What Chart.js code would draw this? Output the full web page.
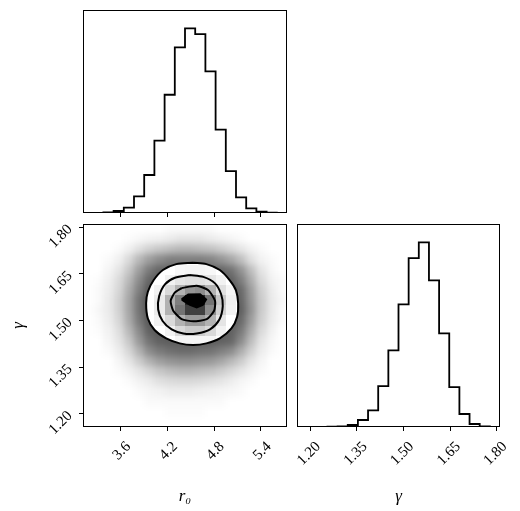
<!DOCTYPE html>
<html>
<head>
<meta charset="utf-8">
<script src="https://cdn.jsdelivr.net/npm/chart.js@4.4.1/dist/chart.umd.min.js"></script>
<style>
  body { margin: 0; background: #fff; }
  #wrap { position: relative; width: 520px; height: 511px; }
  canvas { position: absolute; left: 0; top: 0; }
</style>
</head>
<body>
<div id="wrap">
  <canvas id="histR0" width="520" height="511"></canvas>
  <canvas id="joint" width="520" height="511"></canvas>
  <canvas id="histGamma" width="520" height="511"></canvas>
</div>
<script>
// axis ranges shared by the 1D and 2D histograms (20 bins each)
const R0_RANGE = [3.12, 5.734];
const GAMMA_RANGE = [1.157, 1.81];

const R0_TICKS = [3.6, 4.2, 4.8, 5.4];
const GAMMA_TICKS = [1.20, 1.35, 1.50, 1.65, 1.80];

// marginal histograms (counts per bin, arbitrary units)
const R0_HIST = [0, 0, 2, 6, 16, 50, 114, 217, 355, 497, 554, 537, 425, 250, 126, 47, 14, 4, 1, 0];
const GAMMA_HIST = [0, 0, 0, 1, 2, 6, 21, 50, 123, 230, 368, 507, 554, 440, 281, 120, 39, 9, 2, 0];

// density of the sample cloud, row 0 = highest gamma, col 0 = lowest r0
const CLOUD = [
  [0,0,0,0,0,0,0,0,.02,.02,.02,.02,.02,0,0,0,0,0,0,0],
  [0,0,0,0,.01,.03,.05,.06,.08,.1,.1,.1,.08,.06,.04,.02,0,0,0,0],
  [0,0,0,.02,.06,.12,.18,.22,.25,.28,.28,.26,.24,.2,.15,.1,.05,.02,0,0],
  [0,0,.02,.06,.15,.28,.38,.45,.5,.5,.5,.5,.48,.42,.35,.25,.12,.05,.02,0],
  [0,0,.04,.1,.22,.38,.52,.6,.62,.62,.62,.62,.62,.6,.55,.42,.25,.1,.03,0],
  [0,.01,.06,.14,.28,.45,.6,.65,.65,.65,.65,.65,.65,.65,.62,.5,.32,.14,.05,.02],
  [0,.02,.07,.16,.32,.5,.65,.68,.68,.68,.68,.68,.68,.68,.66,.58,.38,.18,.07,.02],
  [0,.02,.08,.18,.35,.55,.68,.7,.7,.7,.7,.7,.7,.7,.68,.6,.4,.2,.08,.03],
  [0,.03,.08,.18,.35,.55,.68,.7,.7,.7,.7,.7,.7,.7,.68,.62,.42,.2,.08,.02],
  [0,.02,.07,.16,.33,.52,.66,.68,.68,.68,.68,.68,.68,.68,.66,.58,.38,.18,.07,.02],
  [0,.01,.05,.13,.28,.46,.62,.66,.66,.66,.66,.66,.66,.66,.62,.52,.32,.14,.05,0],
  [0,0,.04,.1,.22,.4,.55,.62,.64,.64,.64,.64,.64,.62,.6,.45,.26,.1,.03,0],
  [0,0,.02,.07,.16,.3,.45,.52,.56,.58,.58,.56,.55,.5,.45,.32,.18,.07,.02,0],
  [0,0,0,.04,.1,.2,.3,.38,.42,.44,.44,.42,.4,.35,.28,.2,.1,.04,0,0],
  [0,0,0,.02,.05,.1,.16,.22,.26,.28,.28,.26,.24,.2,.15,.1,.05,.02,0,0],
  [0,0,0,0,.02,.05,.08,.12,.14,.15,.15,.14,.12,.1,.07,.04,.02,0,0,0],
  [0,0,0,0,0,.02,.04,.05,.07,.07,.07,.06,.05,.04,.03,.02,0,0,0,0],
  [0,0,0,0,0,0,.02,.02,.02,.02,.02,.02,.02,.02,0,0,0,0,0,0],
  [0,0,0,0,0,0,0,0,.01,.01,.01,.01,0,0,0,0,0,0,0,0],
  [0,0,0,0,0,0,0,0,0,0,0,0,0,0,0,0,0,0,0,0]
];

// grey 2D histogram shown inside the outer contour
const SHADE = [
  [0,0,0,0,0,0,0,0,0,0,0,0,0,0,0,0,0,0,0,0],
  [0,0,0,0,0,0,0,0,0,0,0,0,0,0,0,0,0,0,0,0],
  [0,0,0,0,0,0,0,0,0,0,0,0,0,0,0,0,0,0,0,0],
  [0,0,0,0,0,0,0,0,0,0,0,0,0,0,0,0,0,0,0,0],
  [0,0,0,0,0,0,0,0,0,.03,.04,.04,.03,0,0,0,0,0,0,0],
  [0,0,0,0,0,0,0,0,.05,.1,.12,.12,.1,.05,0,0,0,0,0,0],
  [0,0,0,0,0,0,0,.05,.15,.3,.42,.45,.3,.12,.04,0,0,0,0,0],
  [0,0,0,0,0,0,0,.08,.3,.5,.85,.85,.55,.22,.06,0,0,0,0,0],
  [0,0,0,0,0,0,0,.08,.3,.55,.75,.75,.45,.18,.05,0,0,0,0,0],
  [0,0,0,0,0,0,0,.05,.15,.3,.4,.4,.3,.1,0,0,0,0,0,0],
  [0,0,0,0,0,0,0,0,.05,.15,.2,.2,.15,.05,0,0,0,0,0,0],
  [0,0,0,0,0,0,0,0,0,.04,.04,.04,.04,0,0,0,0,0,0,0],
  [0,0,0,0,0,0,0,0,0,0,0,0,0,0,0,0,0,0,0,0],
  [0,0,0,0,0,0,0,0,0,0,0,0,0,0,0,0,0,0,0,0],
  [0,0,0,0,0,0,0,0,0,0,0,0,0,0,0,0,0,0,0,0],
  [0,0,0,0,0,0,0,0,0,0,0,0,0,0,0,0,0,0,0,0],
  [0,0,0,0,0,0,0,0,0,0,0,0,0,0,0,0,0,0,0,0],
  [0,0,0,0,0,0,0,0,0,0,0,0,0,0,0,0,0,0,0,0],
  [0,0,0,0,0,0,0,0,0,0,0,0,0,0,0,0,0,0,0,0],
  [0,0,0,0,0,0,0,0,0,0,0,0,0,0,0,0,0,0,0,0]
];

// contour levels, outermost first
const C1_R0 = [4.530, 4.701, 4.873, 5.001, 5.079, 5.108, 5.095, 5.022, 4.873, 4.701, 4.530, 4.359, 4.186, 4.037, 3.951, 3.929, 3.951, 4.024, 4.144, 4.315];
const C1_GAMMA = [1.685, 1.681, 1.662, 1.629, 1.597, 1.555, 1.512, 1.474, 1.442, 1.426, 1.421, 1.426, 1.442, 1.469, 1.506, 1.555, 1.592, 1.629, 1.662, 1.681];
const C2_R0 = [4.491, 4.662, 4.812, 4.890, 4.911, 4.868, 4.748, 4.577, 4.405, 4.256, 4.140, 4.083, 4.096, 4.170, 4.298];
const C2_GAMMA = [1.646, 1.640, 1.619, 1.584, 1.546, 1.503, 1.471, 1.458, 1.458, 1.471, 1.498, 1.535, 1.578, 1.616, 1.637];
const C3_R0 = [4.384, 4.577, 4.726, 4.812, 4.800, 4.706, 4.533, 4.384, 4.276, 4.243, 4.298];
const C3_GAMMA = [1.604, 1.611, 1.597, 1.563, 1.531, 1.504, 1.497, 1.504, 1.531, 1.563, 1.590];
const C4_R0 = [4.384, 4.469, 4.620, 4.697, 4.654, 4.577, 4.491, 4.405];
const C4_GAMMA = [1.568, 1.583, 1.584, 1.567, 1.550, 1.542, 1.550, 1.563];

const SERIF = '"Liberation Serif", "DejaVu Serif", serif';
const tickFont = { family: SERIF, size: 15 };
const titleFont = { family: SERIF, size: 17, style: 'italic' };

function stepPoints(range, counts) {
    const w = (range[1] - range[0]) / counts.length;
    const pts = counts.map((c, i) => ({ x: range[0] + i * w, y: c }));
    pts.push({ x: range[1], y: counts[counts.length - 1] });
    return pts;
}

function loop(xs, ys) {
    const pts = xs.map((x, i) => ({ x: x, y: ys[i] }));
    pts.push(pts[0]);
    return pts;
}

function setTicks(values) {
    return scale => { scale.ticks = values.map(v => ({ value: v })); };
}

// box round every panel
const framePlugin = {
    id: 'frame',
    afterDraw(chart) {
        const { ctx, chartArea: a } = chart;
        ctx.save();
        ctx.strokeStyle = '#000';
        ctx.lineWidth = 1;
        ctx.strokeRect(a.left + 0.5, a.top + 0.5, a.right - a.left - 1, a.bottom - a.top - 1);
        ctx.restore();
    }
};

function tickGrid() {
    return { display: true, drawOnChartArea: false, drawTicks: true, tickLength: 4, color: '#000', lineWidth: 1 };
}

function xAxis(range, ticks, digits, height, title, showLabels) {
    return {
        type: 'linear',
        min: range[0],
        max: range[1],
        afterBuildTicks: setTicks(ticks),
        afterFit: s => { s.height = height; },
        border: { display: false },
        grid: tickGrid(),
        ticks: {
            display: showLabels,
            minRotation: 45,
            maxRotation: 45,
            autoSkip: false,
            padding: 7,
            labelOffset: 8,
            color: '#000',
            font: tickFont,
            callback: v => v.toFixed(digits)
        },
        title: {
            display: !!title,
            text: title || '',
            color: '#000',
            font: titleFont,
            padding: { top: 0, bottom: 4 }
        }
    };
}

function histChart(id, range, counts, ticks, digits, padding, axisHeight, title, showLabels) {
    const maxCount = Math.max(...counts);
    return new Chart(document.getElementById(id), {
        type: 'scatter',
        data: {
            datasets: [{
                data: stepPoints(range, counts),
                showLine: true,
                stepped: true,
                borderColor: '#000',
                borderWidth: 1.8,
                pointRadius: 0
            }]
        },
        options: {
            responsive: false,
            animation: false,
            layout: { padding: padding },
            plugins: { legend: { display: false }, tooltip: { enabled: false } },
            scales: {
                x: xAxis(range, ticks, digits, axisHeight, title, showLabels),
                y: { display: false, min: 0, max: maxCount * 1.1 }
            }
        },
        plugins: [framePlugin]
    });
}

// cloud, white core, grey cells and the filled centre, drawn under the contour lines
const densityPlugin = {
    id: 'density',
    beforeDatasetsDraw(chart) {
        const { ctx, chartArea: a, scales: { x, y } } = chart;
        const dx = (R0_RANGE[1] - R0_RANGE[0]) / 20;
        const dy = (GAMMA_RANGE[1] - GAMMA_RANGE[0]) / 20;

        const cells = (target, grid) => {
            grid.forEach((row, r) => {
                row.forEach((v, c) => {
                    if (!v) return;
                    const x0 = Math.round(x.getPixelForValue(R0_RANGE[0] + c * dx));
                    const x1 = Math.round(x.getPixelForValue(R0_RANGE[0] + (c + 1) * dx));
                    const y0 = Math.round(y.getPixelForValue(GAMMA_RANGE[1] - r * dy));
                    const y1 = Math.round(y.getPixelForValue(GAMMA_RANGE[1] - (r + 1) * dy));
                    target.fillStyle = `rgba(0,0,0,${v})`;
                    target.fillRect(x0, y0, x1 - x0, y1 - y0);
                });
            });
        };

        const polygon = (xs, ys) => {
            ctx.beginPath();
            xs.forEach((v, i) => {
                const px = x.getPixelForValue(v);
                const py = y.getPixelForValue(ys[i]);
                if (i === 0) ctx.moveTo(px, py); else ctx.lineTo(px, py);
            });
            ctx.closePath();
        };

        ctx.save();
        ctx.beginPath();
        ctx.rect(a.left, a.top, a.right - a.left, a.bottom - a.top);
        ctx.clip();

        const off = document.createElement('canvas');
        off.width = chart.width;
        off.height = chart.height;
        cells(off.getContext('2d'), CLOUD);
        ctx.filter = 'blur(3px)';
        ctx.drawImage(off, 0, 0, chart.width, chart.height);
        ctx.filter = 'none';

        polygon(C1_R0, C1_GAMMA);
        ctx.fillStyle = '#fff';
        ctx.fill();
        ctx.clip();
        cells(ctx, SHADE);

        polygon(C4_R0, C4_GAMMA);
        ctx.fillStyle = '#000';
        ctx.fill();
        ctx.restore();
    }
};

histChart('histR0', R0_RANGE, R0_HIST, R0_TICKS, 1,
    { left: 83, right: 233, top: 10, bottom: 0 }, 298, null, false);

histChart('histGamma', GAMMA_RANGE, GAMMA_HIST, GAMMA_TICKS, 2,
    { left: 297, right: 20, top: 224, bottom: 0 }, 84, 'γ', true);

const contourStyle = { showLine: true, borderColor: '#000', borderWidth: 2, pointRadius: 0, fill: false };

new Chart(document.getElementById('joint'), {
    type: 'scatter',
    data: {
        datasets: [
            Object.assign({ data: loop(C1_R0, C1_GAMMA), tension: 0.3 }, contourStyle),
            Object.assign({ data: loop(C2_R0, C2_GAMMA), tension: 0.3 }, contourStyle),
            Object.assign({ data: loop(C3_R0, C3_GAMMA), tension: 0.2 }, contourStyle),
            Object.assign({ data: loop(C4_R0, C4_GAMMA), tension: 0 }, contourStyle)
        ]
    },
    options: {
        responsive: false,
        animation: false,
        layout: { padding: { left: 0, right: 233, top: 224, bottom: 0 } },
        plugins: { legend: { display: false }, tooltip: { enabled: false } },
        scales: {
            x: xAxis(R0_RANGE, R0_TICKS, 1, 84, 'r₀', true),
            y: {
                type: 'linear',
                min: GAMMA_RANGE[0],
                max: GAMMA_RANGE[1],
                afterBuildTicks: setTicks(GAMMA_TICKS),
                afterFit: s => { s.width = 83; },
                border: { display: false },
                grid: tickGrid(),
                ticks: {
                    minRotation: 45,
                    maxRotation: 45,
                    autoSkip: false,
                    padding: 9,
                    color: '#000',
                    font: tickFont,
                    callback: v => v.toFixed(2)
                },
                title: {
                    display: true,
                    text: 'γ',
                    color: '#000',
                    font: titleFont,
                    padding: { top: 8, bottom: 0 }
                }
            }
        }
    },
    plugins: [densityPlugin, framePlugin]
});
</script>
</body>
</html>
